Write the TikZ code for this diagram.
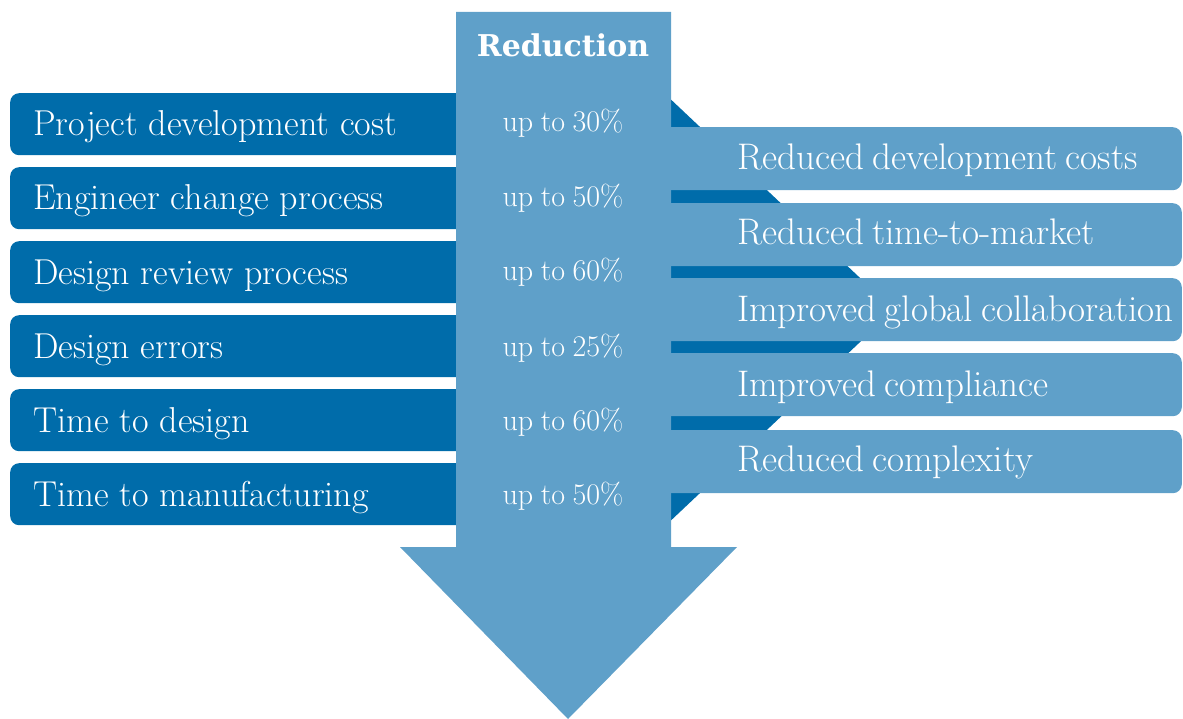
\documentclass[tikz,border=0pt]{standalone}
\usepackage{fontspec}
\newfontfamily\redfont{DejaVu Serif}
\definecolor{darkblue}{RGB}{0,108,170}
\definecolor{lightblue}{RGB}{95,160,201}
\newcommand\rtfont{\fontsize{37}{41}\selectfont\spaceskip=8pt plus 2pt minus 1pt\relax}
\newcommand\ptfont{\fontsize{30}{34}\selectfont\spaceskip=7.5pt plus 2pt minus 1pt\relax}
\tikzset{
  leftbox/.style={fill=darkblue, rounded corners=9pt, minimum width=490pt, minimum height=62pt, anchor=north west, inner sep=0pt, draw=none},
  rightbox/.style={fill=lightblue, rounded corners=9pt, minimum width=540pt, minimum height=63pt, anchor=north east, inner sep=0pt, draw=none},
  lefttext/.style={text=white, anchor=base west, inner sep=0pt, font=\fontsize{36}{40}\selectfont},
  righttext/.style={text=white, anchor=base west, inner sep=0pt, font=\rtfont},
  pcttext/.style={text=white, anchor=base, inner sep=0pt, font=\ptfont},
}
\begin{document}
\begin{tikzpicture}[x=1pt,y=-1pt]
\useasboundingbox (0,0) rectangle (1183,719);
% left boxes
\foreach \i/\t in {1/93,2/167,3/241,4/315,5/389,6/463}{
  \node[leftbox] (l\i) at (10,\t) {};
}
% dark wedge behind the arrow
\fill[darkblue] (520,93) -- (664,93) -- (894,310) -- (664,527) -- (520,527) -- cycle;
% right boxes
\foreach \i/\t in {1/127,2/203,3/278,4/353,5/430}{
  \node[rightbox] (r\i) at (1182,\t) {};
}
% arrow
\fill[lightblue] (456,12) -- (671,12) -- (671,547) -- (737,547) -- (568,719) -- (400,547) -- (456,547) -- cycle;
% title
\node[text=white, inner sep=0pt] (title) at (563,45) {\redfont\bfseries\fontsize{30}{34}\selectfont Reduction};
% left texts
\node[lefttext] (lt1) at (33,136) {Project development cost};
\node[lefttext] (lt2) at (33,210) {Engineer change process};
\node[lefttext] (lt3) at (33,284) {Design review process};
\node[lefttext] (lt4) at (33,358) {Design errors};
\node[lefttext] (lt5) at (33,432) {Time to design};
\node[lefttext] (lt6) at (33,506) {Time to manufacturing};
% percentages
\node[pcttext] (p1) at (563,132) {up to 30\%};
\node[pcttext] (p2) at (563,207) {up to 50\%};
\node[pcttext] (p3) at (563,281) {up to 60\%};
\node[pcttext] (p4) at (563,356) {up to 25\%};
\node[pcttext] (p5) at (563,430) {up to 60\%};
\node[pcttext] (p6) at (563,504) {up to 50\%};
% right texts
\node[righttext] (rt1) at (737,170) {Reduced development costs};
\node[righttext] (rt2) at (737,245) {Reduced time-to-market};
\node[righttext] (rt3) at (737,321) {Improved global collaboration};
\node[righttext] (rt4) at (737,396) {Improved compliance};
\node[righttext] (rt5) at (737,471) {Reduced complexity};
\end{tikzpicture}
\end{document}
